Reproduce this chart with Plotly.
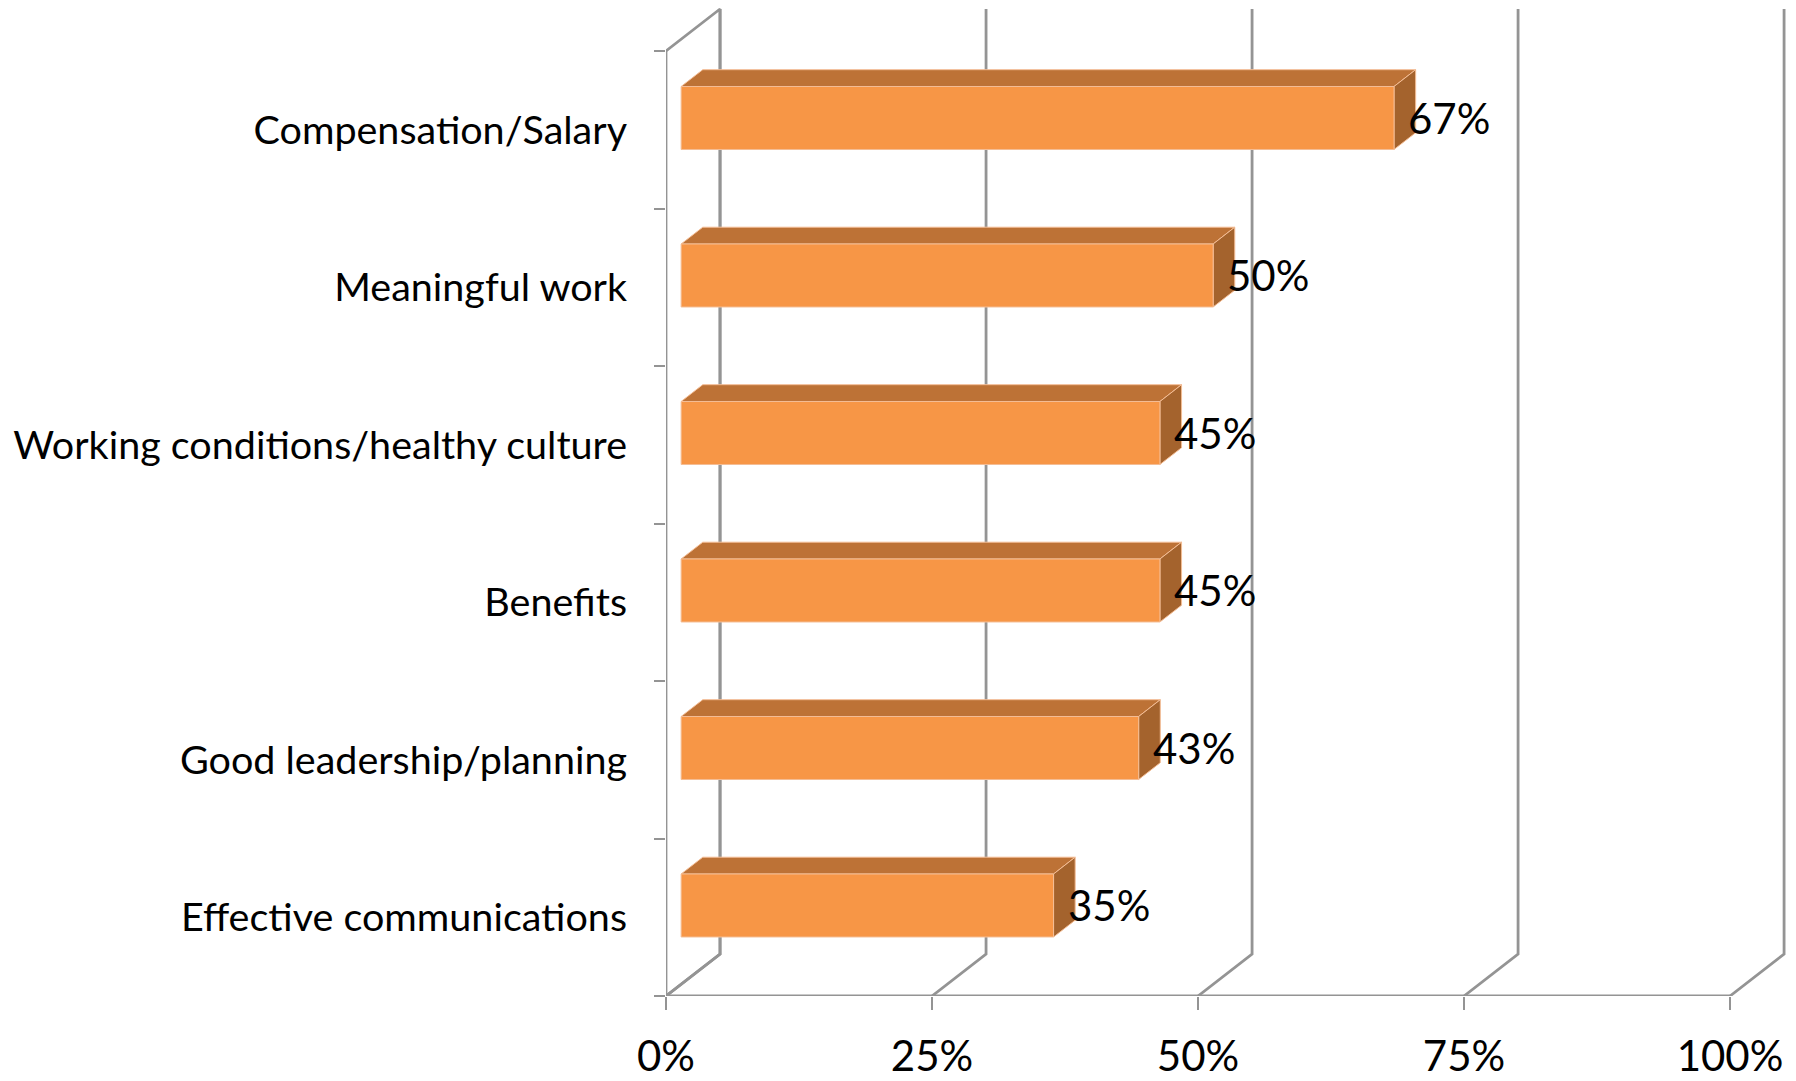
import plotly.graph_objects as go

# Survey results: share of respondents naming each factor
categories = [
    "Effective communications",
    "Good leadership/planning",
    "Benefits",
    "Working conditions/healthy culture",
    "Meaningful work",
    "Compensation/Salary",
]
shares = [0.35, 0.43, 0.45, 0.45, 0.50, 0.67]
x_ticks = [0, 0.25, 0.5, 0.75, 1.0]
x_tick_labels = ["0%", "25%", "50%", "75%", "100%"]

# Oblique projection of the depth axis, expressed in data units
DEPTH_X = 0.0508      # horizontal shift of the back wall (value units)
DEPTH_Y = 0.2667      # vertical shift of the back wall (category units)
BAR_FRONT = 0.28      # depth fraction where the bar fronts sit
BAR_DEPTH = 0.40      # bar thickness as a depth fraction
BAR_HALF = 0.20       # half bar height (category units)

GRID = "#949494"
FRONT = "#F79646"
TOP = "#BD7236"
SIDE = "#A4632D"
EDGE = "#F4BD95"
FONT = "Lato, 'Open Sans', sans-serif"

pos = list(range(len(categories)))
y_lo, y_hi = -0.5, len(categories) - 0.5

fig = go.Figure()

# Walls and floor outline
gx, gy = [], []
gx += [0, DEPTH_X, DEPTH_X, 0, None]
gy += [y_hi, y_hi + DEPTH_Y, y_lo + DEPTH_Y, y_lo, None]
for t in x_ticks:
    gx += [t, t + DEPTH_X, t + DEPTH_X, None]
    gy += [y_lo, y_lo + DEPTH_Y, y_hi + DEPTH_Y, None]
fig.add_trace(go.Scatter(x=gx, y=gy, mode="lines", line=dict(color=GRID, width=2.8),
                         hoverinfo="skip", showlegend=False))

# Front axis lines (category axis and floor front edge)
fig.add_trace(go.Scatter(x=[0, 0, None, x_ticks[0], x_ticks[-1]],
                         y=[y_hi, y_lo, None, y_lo, y_lo],
                         mode="lines", line=dict(color=GRID, width=2.8),
                         hoverinfo="skip", showlegend=False))

# Bars as extruded boxes
fx, fy, tx, ty, sx, sy = [], [], [], [], [], []
ddx, ddy = BAR_DEPTH * DEPTH_X, BAR_DEPTH * DEPTH_Y
for c, v in zip(pos, shares):
    x0 = BAR_FRONT * DEPTH_X
    x1 = v + x0
    yb = c - BAR_HALF + BAR_FRONT * DEPTH_Y
    yt = c + BAR_HALF + BAR_FRONT * DEPTH_Y
    fx += [x0, x1, x1, x0, x0, None]
    fy += [yb, yb, yt, yt, yb, None]
    tx += [x0, x1, x1 + ddx, x0 + ddx, x0, None]
    ty += [yt, yt, yt + ddy, yt + ddy, yt, None]
    sx += [x1, x1 + ddx, x1 + ddx, x1, x1, None]
    sy += [yb, yb + ddy, yt + ddy, yt, yb, None]

for xs, ys, col in [(tx, ty, TOP), (sx, sy, SIDE), (fx, fy, FRONT)]:
    fig.add_trace(go.Scatter(x=xs, y=ys, mode="lines", fill="toself", fillcolor=col,
                             line=dict(color=EDGE, width=1),
                             hoverinfo="skip", showlegend=False))

# Value labels at the end of each bar
for c, v in zip(pos, shares):
    fig.add_annotation(x=v + BAR_FRONT * DEPTH_X, y=c + BAR_FRONT * DEPTH_Y,
                       text=f"{round(v * 100)}%", showarrow=False,
                       xanchor="left", yanchor="middle", xshift=12,
                       font=dict(family=FONT, size=42, color="#000000"))

fig.update_layout(
    width=1796, height=1081,
    margin=dict(l=666, r=0, t=0, b=85, autoexpand=False),
    paper_bgcolor="white", plot_bgcolor="white",
    showlegend=False,
    xaxis=dict(range=[0, 1.0620], tickvals=x_ticks, ticktext=x_tick_labels,
               ticks="outside", ticklen=13, tickwidth=2, tickcolor=GRID,
               showgrid=False, zeroline=False, showline=False,
               tickfont=dict(family=FONT, size=42, color="#000000"),
               ticklabelstandoff=11, fixedrange=True),
    yaxis=dict(range=[y_lo, 5.8238], tickvals=pos, ticktext=categories,
               ticks="", showgrid=False, zeroline=False, showline=False,
               minor=dict(tickvals=[p - 0.5 for p in pos] + [y_hi], ticks="outside",
                          ticklen=11, tickwidth=2, tickcolor=GRID, showgrid=False),
               tickfont=dict(family=FONT, size=39.5, color="#000000"),
               ticklabelstandoff=38, fixedrange=True),
)

fig.write_html("out.html")
